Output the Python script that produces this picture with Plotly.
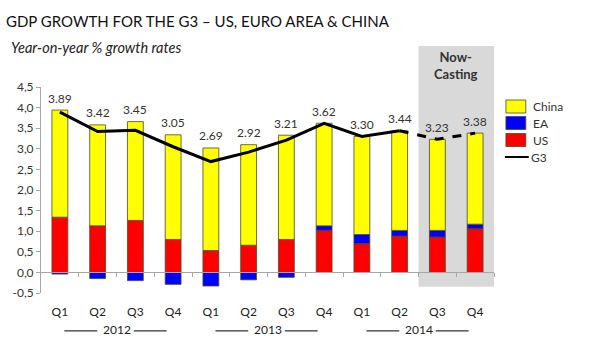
import plotly.graph_objects as go

quarters = ["Q1", "Q2", "Q3", "Q4"] * 3
years = ["2012", "2013", "2014"]
us = [1.34, 1.13, 1.26, 0.80, 0.53, 0.66, 0.80, 1.02, 0.70, 0.88, 0.86, 1.06]
ea = [-0.04, -0.15, -0.20, -0.29, -0.33, -0.18, -0.12, 0.11, 0.22, 0.14, 0.16, 0.11]
china = [2.60, 2.45, 2.40, 2.54, 2.49, 2.44, 2.53, 2.49, 2.38, 2.42, 2.21, 2.21]
g3 = [3.89, 3.42, 3.45, 3.05, 2.69, 2.92, 3.21, 3.62, 3.30, 3.44, 3.23, 3.38]
nowcast_start = 10  # index of first now-cast quarter
ytick_vals = [-0.5, 0, 0.5, 1, 1.5, 2, 2.5, 3, 3.5, 4, 4.5]
ytick_text = ["-0,5", "0,0", "0,5", "1,0", "1,5", "2,0", "2,5", "3,0", "3,5", "4,0", "4,5"]

FONT = "Lato"
xs = list(range(len(quarters)))
edge = dict(color="#4a4a2a", width=0.8)
bw = 0.42
colors = {"US": "#FF0000", "EA": "#0000FF", "China": "#FFFF00"}

fig = go.Figure()
fig.add_trace(go.Bar(x=xs, y=us, name="US", marker=dict(color=colors["US"], line=edge), width=bw))
fig.add_trace(go.Bar(x=xs, y=ea, name="EA", marker=dict(color=colors["EA"], line=edge), width=bw))
fig.add_trace(go.Bar(x=xs, y=china, name="China", marker=dict(color=colors["China"], line=edge), width=bw))
fig.add_trace(go.Scatter(x=xs[:nowcast_start], y=g3[:nowcast_start], mode="lines", name="G3",
                         line=dict(color="black", width=3)))
fig.add_trace(go.Scatter(x=xs[nowcast_start - 1:], y=g3[nowcast_start - 1:], mode="lines",
                         line=dict(color="black", width=3, dash="dash")))
# helper trace for the zero-line axis
fig.add_trace(go.Scatter(x=[None], y=[None], xaxis="x2", hoverinfo="skip"))

annotations = []
for i in xs:
    top = us[i] + max(ea[i], 0) + china[i]
    annotations.append(dict(x=i, y=top, xref="x", yref="y", text=f"{g3[i]:.2f}",
                            showarrow=False, yshift=12, font=dict(family=FONT, size=12, color="#333")))

shapes = [dict(type="rect", xref="x", yref="paper", x0=nowcast_start - 0.5, x1=len(xs) - 0.5,
               y0=0.03, y1=1.199, fillcolor="#d9d9d9", line=dict(width=0), layer="below")]
annotations.append(dict(x=(nowcast_start + len(xs) - 1) / 2, y=1.102, xref="x", yref="paper",
                        text="<b>Now-<br>Casting</b>", showarrow=False, yanchor="middle",
                        font=dict(family=FONT, size=13, color="#333")))

for k, yr in enumerate(years):
    c = k * 4 + 1.5
    annotations.append(dict(x=c, y=-0.175, xref="x", yref="paper", text=yr, showarrow=False,
                            yanchor="middle", font=dict(family=FONT, size=12, color="#222")))
    for a, b in [(-1.38, -0.51), (0.46, 1.33)]:
        shapes.append(dict(type="line", xref="x", yref="paper", x0=c + a, x1=c + b,
                           y0=-0.184, y1=-0.184, line=dict(color="black", width=1)))

# legend (drawn manually to match the compact row spacing)
W, L, T, B = 600, 38, 87, 48
pw, ph = W - L - 106, 341 - T - B
def px(x): return (x - L) / pw
def py(y): return (341 - B - y) / ph
legend_items = ["China", "EA", "US"]
row_y = [106.5, 123, 140, 157]
for name, yy in zip(legend_items, row_y):
    shapes.append(dict(type="rect", xref="paper", yref="paper", x0=px(506), x1=px(526),
                       y0=py(yy + 6.5), y1=py(yy - 6.5), fillcolor=colors[name],
                       line=dict(color="#4a4a2a", width=0.8)))
    annotations.append(dict(x=px(531), y=py(yy), xref="paper", yref="paper", text=name,
                            xanchor="left", yanchor="middle", showarrow=False,
                            font=dict(family=FONT, size=12, color="#333")))
shapes.append(dict(type="line", xref="paper", yref="paper", x0=px(505), x1=px(529),
                   y0=py(row_y[3]), y1=py(row_y[3]), line=dict(color="black", width=2)))
annotations.append(dict(x=px(529), y=py(row_y[3]), xref="paper", yref="paper", text="G3",
                        xanchor="left", yanchor="middle", showarrow=False,
                        font=dict(family=FONT, size=12, color="#333")))

annotations.append(dict(x=px(6), y=py(47), xref="paper", yref="paper", xanchor="left",
                        yanchor="middle", text="<i>Year-on-year % growth rates</i>", showarrow=False,
                        font=dict(family=FONT, size=14.5, color="#222")))

fig.update_layout(
    width=600, height=341,
    margin=dict(l=L, r=106, t=T, b=B),
    paper_bgcolor="white", plot_bgcolor="white",
    barmode="relative", bargap=0.5, showlegend=False,
    font=dict(family=FONT, size=12, color="#333"),
    title=dict(text="GDP GROWTH FOR THE G3 – US, EURO AREA & CHINA", x=0.01, xanchor="left",
               xref="container", yref="container", y=1 - 22 / 341, yanchor="middle",
               font=dict(family=FONT, size=15, color="#111")),
    xaxis=dict(range=[-0.5, len(xs) - 0.5], tickvals=xs, ticktext=quarters, showline=False,
               ticks="", showgrid=False, zeroline=False, ticklabelstandoff=10,
               tickfont=dict(size=12, color="#222")),
    xaxis2=dict(range=[-0.5, len(xs) - 0.5], overlaying="x", anchor="free", position=0.1,
                showline=True, linecolor="#a6a6a6", linewidth=1, ticks="outside", ticklen=4,
                tickcolor="#a6a6a6", tickvals=[i + 0.5 for i in xs], showticklabels=False,
                showgrid=False, zeroline=False),
    yaxis=dict(range=[-0.5, 4.5], tickvals=ytick_vals, ticktext=ytick_text, showgrid=False,
               zeroline=False, showline=True, linecolor="#a6a6a6", ticks="outside", ticklen=4,
               tickcolor="#a6a6a6", tickfont=dict(size=12, color="#333")),
    shapes=shapes, annotations=annotations,
)

fig.write_html("out.html")
